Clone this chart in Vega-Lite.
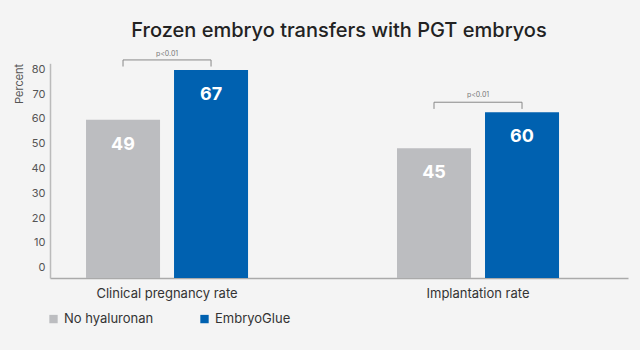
{
  "$schema": "https://vega.github.io/schema/vega-lite/v6.json",
  "autosize": {"type": "none"},
  "padding": {"left": 50, "top": 63.3, "right": 12, "bottom": 72},
  "width": 578,
  "height": 214.7,
  "background": "#f4f4f4",
  "title": {
    "text": "Frozen embryo transfers with PGT embryos",
    "font": "Inter",
    "fontSize": 20,
    "fontWeight": 500,
    "color": "#222222",
    "anchor": "middle",
    "frame": "group",
    "baseline": "alphabetic",
    "offset": -7
  },
  "datasets": {
    "bars": [
      {"rate": "Clinical pregnancy rate", "group": "No hyaluronan", "label": 49, "value": 59.6},
      {"rate": "Clinical pregnancy rate", "group": "EmbryoGlue", "label": 67, "value": 79.7},
      {"rate": "Implantation rate", "group": "No hyaluronan", "label": 45, "value": 48.1},
      {"rate": "Implantation rate", "group": "EmbryoGlue", "label": 60, "value": 62.7}
    ],
    "brackets": [
      {"rate": "Clinical pregnancy rate", "group": "No hyaluronan", "value": 81.1, "order": 1},
      {"rate": "Clinical pregnancy rate", "group": "No hyaluronan", "value": 83.75, "order": 2},
      {"rate": "Clinical pregnancy rate", "group": "EmbryoGlue", "value": 83.75, "order": 3},
      {"rate": "Clinical pregnancy rate", "group": "EmbryoGlue", "value": 81.1, "order": 4},
      {"rate": "Implantation rate", "group": "No hyaluronan", "value": 64.0, "order": 1},
      {"rate": "Implantation rate", "group": "No hyaluronan", "value": 66.7, "order": 2},
      {"rate": "Implantation rate", "group": "EmbryoGlue", "value": 66.7, "order": 3},
      {"rate": "Implantation rate", "group": "EmbryoGlue", "value": 64.0, "order": 4}
    ],
    "pvals": [
      {"rate": "Clinical pregnancy rate", "value": 86.2, "text": "p<0.01"},
      {"rate": "Implantation rate", "value": 69.6, "text": "p<0.01"}
    ]
  },
  "encoding": {
    "x": {
      "field": "rate",
      "type": "nominal",
      "sort": ["Clinical pregnancy rate", "Implantation rate"],
      "scale": {"paddingInner": 0.389, "paddingOuter": 0.1238, "align": 0.286},
      "axis": {
        "title": null,
        "labelAngle": 0,
        "ticks": false,
        "labelFont": "Inter",
        "labelFontSize": 13,
        "labelColor": "#333333",
        "labelPadding": 9,
        "domainColor": "#aaaaaa",
        "domainWidth": 1.5
      }
    },
    "y": {
      "field": "value",
      "type": "quantitative",
      "scale": {"domain": [-4.2, 82.4], "nice": false, "zero": false},
      "axis": {
        "title": "Percent",
        "titleAnchor": "end",
        "values": [0, 10, 20, 30, 40, 50, 60, 70, 80],
        "labelOverlap": false,
        "grid": false,
        "ticks": false,
        "labelFont": "Inter",
        "labelFontSize": 11,
        "labelColor": "#555555",
        "labelPadding": 5,
        "titleFont": "Inter",
        "titleFontSize": 11,
        "titleFontWeight": "normal",
        "titleColor": "#555555",
        "titlePadding": 6,
        "domainColor": "#bbbbbb",
        "domainWidth": 1.5
      }
    }
  },
  "layer": [
    {
      "data": {"name": "bars"},
      "mark": {"type": "bar"},
      "encoding": {
        "xOffset": {
          "field": "group",
          "type": "nominal",
          "sort": ["No hyaluronan", "EmbryoGlue"],
          "scale": {"paddingInner": 0.159, "paddingOuter": 0.159}
        },
        "y2": {"datum": -4.2},
        "color": {
          "field": "group",
          "type": "nominal",
          "sort": ["No hyaluronan", "EmbryoGlue"],
          "scale": {"domain": ["No hyaluronan", "EmbryoGlue"], "range": ["#bcbdc0", "#0061b0"]},
          "legend": {
            "title": null,
            "orient": "none",
            "legendX": -3,
            "legendY": 249,
            "direction": "horizontal",
            "symbolType": "square",
            "symbolSize": 70,
            "symbolStrokeWidth": 0,
            "labelFont": "Inter",
            "labelFontSize": 13,
            "labelColor": "#333333",
            "labelOffset": 4,
            "columnPadding": 44
          }
        }
      }
    },
    {
      "data": {"name": "bars"},
      "mark": {"type": "text", "color": "white", "font": "Inter", "fontSize": 18, "fontWeight": "bold", "baseline": "middle", "dy": 25},
      "encoding": {
        "xOffset": {"field": "group", "type": "nominal", "sort": ["No hyaluronan", "EmbryoGlue"]},
        "text": {"field": "label", "type": "quantitative"}
      }
    },
    {
      "data": {"name": "brackets"},
      "mark": {"type": "line", "color": "#888888", "strokeWidth": 1, "clip": false},
      "encoding": {
        "xOffset": {"field": "group", "type": "nominal", "sort": ["No hyaluronan", "EmbryoGlue"]},
        "order": {"field": "order"},
        "detail": {"field": "rate"}
      }
    },
    {
      "data": {"name": "pvals"},
      "mark": {"type": "text", "color": "#777777", "font": "Inter", "fontSize": 7, "baseline": "middle"},
      "encoding": {
        "text": {"field": "text"}
      }
    }
  ],
  "config": {"view": {"stroke": null}}
}
